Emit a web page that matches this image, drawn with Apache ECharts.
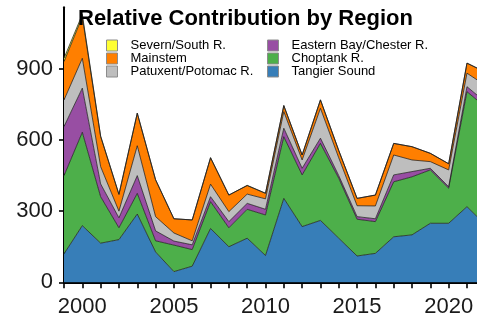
<!DOCTYPE html>
<html><head><meta charset="utf-8">
<script src="https://cdn.jsdelivr.net/npm/echarts@6/dist/echarts.min.js"></script>
<style>html,body{margin:0;padding:0;background:#fff}#c{width:477px;height:317px}</style>
</head><body><div id="c"></div>
<script>
// Data
const years = [1999,2000,2001,2002,2003,2004,2005,2006,2007,2008,2009,2010,2011,2012,2013,2014,2015,2016,2017,2018,2019,2020,2021,2022];
const tangierSound = [120,239,165,180,288,128,45,68,227,150,186,113,354,235,261,186,111,122,192,200,249,249,319,243];
const choptankR = [330,394,196,50,87,47,112,70,113,80,122,171,260,218,325,253,155,134,232,245,225,148,485,497];
const easternBayChesterR = [207,186,54,42,75,42,17,20,21,26,25,24,36,28,22,11,11,12,29,22,7,6,21,21];
const patuxentPotomacR = [112,126,73,28,126,60,34,17,53,42,39,44,70,35,126,75,46,54,84,49,28,71,57,70];
const mainstem = [162,175,127,70,137,155,60,88,111,70,36,23,25,21,35,31,31,46,49,56,35,26,42,55];
const severnSouthR = [14,10,2,2,1,1,0,0,1,0,1,1,1,0,1,0,0,0,0,0,0,0,1,1];
const yTicks = [0,300,600,900];
const xLabels = [2000,2005,2010,2015,2020];

const seriesDefs = [
  {name:'Tangier Sound', data:tangierSound, color:'#377EB8'},
  {name:'Choptank R.', data:choptankR, color:'#4DAF4A'},
  {name:'Eastern Bay/Chester R.', data:easternBayChesterR, color:'#984EA3'},
  {name:'Patuxent/Potomac R.', data:patuxentPotomacR, color:'#BEBEBE'},
  {name:'Mainstem', data:mainstem, color:'#FF7F00'},
  {name:'Severn/South R.', data:severnSouthR, color:'#FFFF33'}
];
const colorOf = {};
seriesDefs.forEach(s => colorOf[s.name] = s.color);

const font = 'Liberation Sans, Arial, sans-serif';
const legendCommon = {
  orient:'vertical', icon:'rect', itemWidth:11, itemHeight:11, itemGap:0,
  selectedMode:false,
  itemStyle:{borderColor:'#8c8c8c', borderWidth:1},
  textStyle:{fontSize:13, lineHeight:12.5, color:'#000', fontFamily:font, padding:[0,0,0,8]},
  padding:0, z:10
};
const mkLegend = (names, left) => Object.assign({}, legendCommon, {
  left:left, top:39,
  data: names.map(n => ({name:n, itemStyle:{color:colorOf[n], borderColor:'#8c8c8c', borderWidth:1}}))
});

const chart = echarts.init(document.getElementById('c'), null, {renderer:'canvas'});
chart.setOption({
  animation:false,
  backgroundColor:'#fff',
  title:{text:'Relative Contribution by Region', left:78, top:8, padding:0, z:10,
    textStyle:{fontSize:22, fontWeight:'bold', color:'#000', fontFamily:font}},
  legend:[
    mkLegend(['Severn/South R.','Mainstem','Patuxent/Potomac R.'], 106),
    mkLegend(['Eastern Bay/Chester R.','Choptank R.','Tangier Sound'], 267)
  ],
  grid:{left:64, right:-8.3, top:7.3, bottom:34.7, containLabel:false, outerBoundsMode:'none'},
  xAxis:{type:'category', data:years.map(String), boundaryGap:false,
    splitLine:{show:false},
    axisLine:{show:true, onZero:false, lineStyle:{color:'#000', width:2}},
    axisTick:{show:true, interval:0, length:6, lineStyle:{color:'#000', width:1.6}},
    axisLabel:{interval:0, fontSize:22, color:'#1a1a1a', fontFamily:font, margin:14,
      formatter:v => (xLabels.indexOf(Number(v)) >= 0 ? v : '')}
  },
  yAxis:{type:'value', min:0, max:1160, interval:300,
    splitLine:{show:false},
    axisLine:{show:true, lineStyle:{color:'#000', width:2}},
    axisTick:{show:true, length:5, lineStyle:{color:'#000', width:1.6}, customValues:yTicks},
    axisLabel:{customValues:yTicks, fontSize:22, color:'#1a1a1a', fontFamily:font, margin:11}
  },
  series: seriesDefs.map(s => ({
    name:s.name, type:'line', stack:'total', symbol:'none', smooth:false,
    data: s.data,
    itemStyle:{color:s.color},
    lineStyle:{color:'rgba(30,30,30,0.85)', width:0.9},
    areaStyle:{color:s.color, opacity:1},
    emphasis:{disabled:true}
  }))
});
</script>
</body></html>
